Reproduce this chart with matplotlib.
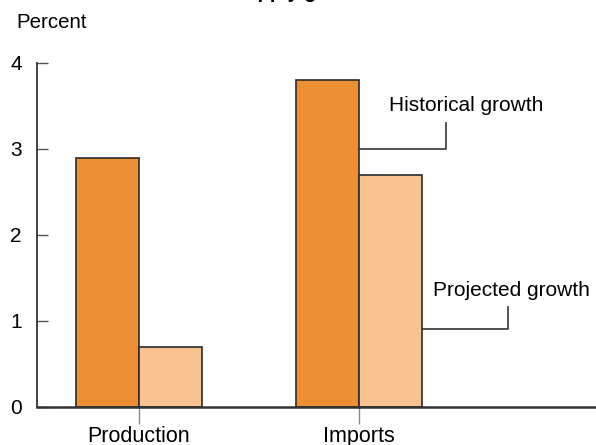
import matplotlib.pyplot as plt
import numpy as np

plt.rcParams['font.family'] = ['Liberation Sans', 'DejaVu Sans']

# data
categories = ["Production", "Imports"]
historical = [2.9, 3.8]
projected = [0.7, 2.7]

hist_color = "#EE8F33"
proj_color = "#F8C291"
edge = "#2b2b2b"

fig = plt.figure(figsize=(5.96, 4.45), dpi=100)
ax = fig.add_axes([37 / 596, 38 / 445, 559 / 596, 344 / 445])

x = np.arange(len(categories))
w = 0.286
ax.bar(x - w / 2, historical, w, color=hist_color, edgecolor=edge, linewidth=1.2)
ax.bar(x + w / 2, projected, w, color=proj_color, edgecolor=edge, linewidth=1.2)

ax.set_xlim(-0.463, 2.078)
ax.set_ylim(0, 4)
ax.set_yticks([0, 1, 2, 3, 4])
ax.set_xticks(x)
ax.set_xticklabels(categories, fontsize=15.5)
ax.tick_params(axis='y', direction='in', length=8, width=1, color='#555555',
               labelsize=15, pad=11)
ax.tick_params(axis='x', direction='out', length=12, width=1, color='#888888',
               pad=2)

for s in ['top', 'right']:
    ax.spines[s].set_visible(False)
ax.spines['left'].set_linewidth(1.3)
ax.spines['left'].set_color('#333333')
ax.spines['bottom'].set_linewidth(1.8)
ax.spines['bottom'].set_color('#333333')

# leader lines and labels
lc = '#333333'
hx = x[1]  # right edge of imports historical bar
ax.plot([hx, 1.395, 1.395], [3.0, 3.0, 3.30], color=lc, lw=1.2, clip_on=False)
ax.text(1.49, 3.51, "Historical growth", ha='center', va='center', fontsize=15)

px = x[1] + w  # right edge of imports projected bar
ax.plot([px, 1.68, 1.68], [0.91, 0.91, 1.16], color=lc, lw=1.2, clip_on=False)
ax.text(1.695, 1.35, "Projected growth", ha='center', va='center', fontsize=15)

fig.text(16 / 596, 1 - 23 / 445, "Percent", ha='left', va='center', fontsize=14.8)
fig.text(0.505, 1 + 1.5 / 445, "Supply growth", ha='center', va='baseline',
         fontsize=14.4, fontweight='bold')

fig.savefig("out.png", dpi=100)
